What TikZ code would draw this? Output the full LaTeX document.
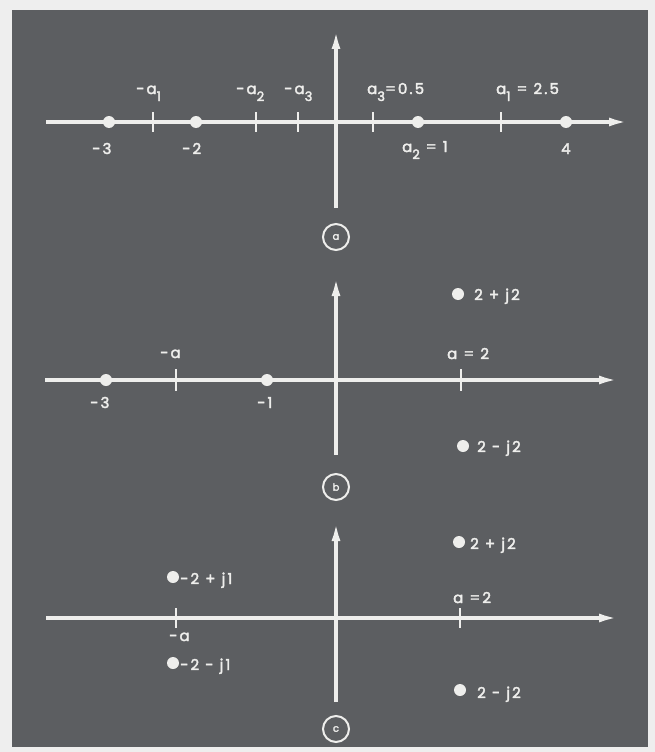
\documentclass[tikz,border=0pt]{standalone}
\usepackage{fontspec}
\setmainfont{Poppins}[LetterSpace=14, FakeBold=2.6]
\usetikzlibrary{positioning, arrows.meta}
\definecolor{panelgray}{RGB}{92,94,97}
\definecolor{framegray}{RGB}{238,238,238}
\definecolor{chalk}{RGB}{238,238,236}
\tikzset{
  axisline/.style={
    -{Latex[length=19pt,width=9pt]}, line width=3.4pt, color=chalk
  },
  tickmark/.style={
    line width=2.6pt, color=chalk
  },
  pole/.style={
    circle, fill=chalk, inner sep=0pt, minimum size=12pt
  },
  axlabel/.style={
    font=\fontsize{15}{17}\selectfont, text=chalk, inner sep=0pt,
    anchor=base west
  },
  tag/.style={
    circle, draw=chalk, line width=2pt, minimum size=26pt,
    inner sep=0pt, font=\fontsize{10}{11}\selectfont, text=chalk
  },
}
\newcommand{\lowr}[1]{\raisebox{-7pt}{\fontsize{13}{14}\selectfont #1}}

\begin{document}
\begin{tikzpicture}[x=1pt, y=-1pt]
  % frame and panel
  \fill[framegray] (0,0) rectangle (655,752);
  \fill[panelgray] (12,10) rectangle (648,747);

  % ---- panel a ----
  \coordinate (aW) at (46,122);
  \coordinate (aE) at (628,122);
  \coordinate (aS) at (336,208);
  \coordinate (aN) at (336,30);
  \draw[axisline] (aW) -- (aE);
  \draw[axisline] (aS) -- (aN);
  \foreach \n/\x in {ma1/153, ma2/256, ma3/298, pa3/373, pa1/501} {
    \coordinate (tk-\n) at (\x,122);
    \draw[tickmark] ([yshift=10pt]tk-\n) -- ([yshift=-10pt]tk-\n);
  }
  \node[pole] (a-m3) at (109,122) {};
  \node[pole] (a-m2) at (196,122) {};
  \node[pole] (a-p1) at (418,122) {};
  \node[pole] (a-p4) at (566,122) {};
  \node[axlabel] (la-ma1) at (136,94) {-a\lowr{1}};
  \node[axlabel] (la-ma2) at (236,94) {-a\lowr{2}};
  \node[axlabel] (la-ma3) at (284,94) {-a\lowr{3}};
  \node[axlabel] (la-pa3) at (367,94) {a\lowr{3}=0.5};
  \node[axlabel] (la-pa1) at (496,94) {a\lowr{1} = 2.5};
  \node[axlabel] (la-pa2) at (402,152) {a\lowr{2} = 1};
  \node[axlabel] (la-m3) at (92,154) {-3};
  \node[axlabel] (la-m2) at (182,154) {-2};
  \node[axlabel] (la-p4) at (561,154) {4};
  \node[tag] (tag-a) at (336,237) {a};

  % ---- panel b ----
  \coordinate (bW) at (45,380);
  \coordinate (bE) at (618,380);
  \coordinate (bS) at (336,455);
  \coordinate (bN) at (336,277);
  \draw[axisline] (bW) -- (bE);
  \draw[axisline] (bS) -- (bN);
  \foreach \n/\x in {ma/176, pa/461} {
    \coordinate (tkb-\n) at (\x,380);
    \draw[tickmark] ([yshift=11pt]tkb-\n) -- ([yshift=-11pt]tkb-\n);
  }
  \node[pole] (b-m3) at (106,380) {};
  \node[pole] (b-m1) at (267,380) {};
  \node[pole] (b-up) at (458,294) {};
  \node[pole] (b-dn) at (463,446) {};
  \node[axlabel] (lb-ma) at (160,358) {-a};
  \node[axlabel] (lb-pa) at (447,359) {a = 2};
  \node[axlabel] (lb-m3) at (90,408) {-3};
  \node[axlabel] (lb-m1) at (257,408) {-1};
  \node[axlabel] (lb-up) at (474,300) {2 + j2};
  \node[axlabel] (lb-dn) at (477,452) {2 - j2};
  \node[tag] (tag-b) at (336,487) {b};

  % ---- panel c ----
  \coordinate (cW) at (46,618);
  \coordinate (cE) at (618,618);
  \coordinate (cS) at (336,702);
  \coordinate (cN) at (336,522);
  \draw[axisline] (cW) -- (cE);
  \draw[axisline] (cS) -- (cN);
  \foreach \n/\x in {ma/176, pa/460} {
    \coordinate (tkc-\n) at (\x,618);
    \draw[tickmark] ([yshift=10pt]tkc-\n) -- ([yshift=-10pt]tkc-\n);
  }
  \node[pole] (c-lu) at (173,577) {};
  \node[pole] (c-ld) at (173,663) {};
  \node[pole] (c-ru) at (459,542) {};
  \node[pole] (c-rd) at (460,690) {};
  \node[axlabel] (lc-lu) at (180,584) {-2 + j1};
  \node[axlabel] (lc-ma) at (169,641) {-a};
  \node[axlabel] (lc-ld) at (180,670) {-2 - j1};
  \node[axlabel] (lc-pa) at (453,603) {a =2};
  \node[axlabel] (lc-ru) at (470,549) {2 + j2};
  \node[axlabel] (lc-rd) at (477,698) {2 - j2};
  \node[tag] (tag-c) at (336,729) {c};
\end{tikzpicture}
\end{document}
